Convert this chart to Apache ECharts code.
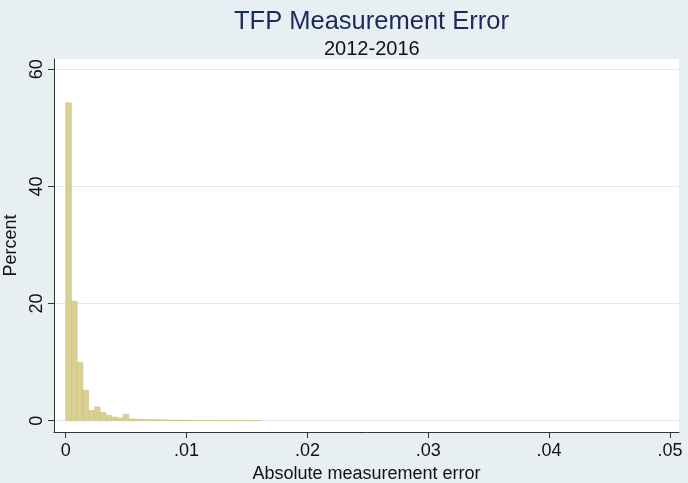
<!DOCTYPE html>
<html><head><meta charset="utf-8">
<script src="https://cdn.jsdelivr.net/npm/echarts@6/dist/echarts.min.js"></script>
<style>html,body{margin:0;padding:0;background:#e8eff2}#c{width:688px;height:483px}</style>
</head><body><div id="c"></div>
<script>
const binStart = 0;
const binWidth = 0.000475;
const percents = [54.3, 20.4, 9.95, 5.2, 1.75, 2.35, 1.42, 0.93, 0.62, 0.45, 1.1,
  0.3, 0.26, 0.23, 0.2, 0.18, 0.16, 0.14, 0.12, 0.11, 0.1, 0.09, 0.08, 0.07, 0.06,
  0.05, 0.05, 0.04, 0.04, 0.03, 0.03, 0.03, 0.02, 0.02];
const xTicks = [0, 0.01, 0.02, 0.03, 0.04, 0.05];
const xTickLabels = ['0', '.01', '.02', '.03', '.04', '.05'];
const yTicks = [0, 20, 40, 60];
const yTickLabels = ['0', '20', '40', '60'];

const histData = percents.map((p, i) => [binStart + i * binWidth, binStart + (i + 1) * binWidth, p]);
const FONT = "'Liberation Sans', Arial, sans-serif";

const chart = echarts.init(document.getElementById('c'), null, {renderer: 'canvas'});
chart.setOption({
  backgroundColor: '#e8eff2',
  animation: false,
  title: [
    {text: 'TFP Measurement Error', left: 229, top: 4,
     textStyle: {fontFamily: FONT, fontSize: 25.5, fontWeight: 'normal', color: '#1a2a5c'}},
    {text: '2012-2016', left: 319, top: 34,
     textStyle: {fontFamily: FONT, fontSize: 20, fontWeight: 'normal', color: '#111'}}
  ],
  grid: {left: 54, right: 9, top: 59, bottom: 51, show: true, backgroundColor: '#ffffff', borderWidth: 0,
    containLabel: false, outerBoundsMode: 'none'},
  xAxis: {
    type: 'value', min: -0.000968, max: 0.05075,
    axisLine: {show: true, onZero: false, lineStyle: {color: '#333', width: 1}},
    axisTick: {show: true, length: 6, customValues: xTicks, lineStyle: {color: '#333'}},
    axisLabel: {customValues: xTicks, margin: 10, fontFamily: FONT, fontSize: 18, color: '#111',
      formatter: v => { const i = xTicks.findIndex(t => Math.abs(t - v) < 1e-9); return i >= 0 ? xTickLabels[i] : ''; }},
    splitLine: {show: false},
    name: 'Absolute measurement error', nameLocation: 'middle', nameGap: 28,
    nameTextStyle: {fontFamily: FONT, fontSize: 18, color: '#111'}
  },
  yAxis: {
    type: 'value', min: -1.93, max: 61.76,
    axisLine: {show: true, onZero: false, lineStyle: {color: '#333', width: 1}},
    axisTick: {show: true, length: 6, customValues: yTicks, lineStyle: {color: '#333'}},
    axisLabel: {customValues: yTicks, rotate: 90, margin: 8, fontFamily: FONT, fontSize: 18, color: '#111',
      formatter: v => { const i = yTicks.findIndex(t => Math.abs(t - v) < 1e-9); return i >= 0 ? yTickLabels[i] : ''; }},
    splitLine: {show: true, lineStyle: {color: '#e1eaee', width: 1.2}},
    name: 'Percent', nameLocation: 'middle', nameGap: 32, nameRotate: 90,
    nameTextStyle: {fontFamily: FONT, fontSize: 18, color: '#111'}
  },
  series: [{
    type: 'custom',
    encode: {x: [0, 1], y: 2},
    data: histData,
    renderItem: function (params, api) {
      const x0 = api.value(0), x1 = api.value(1), y = api.value(2);
      const p0 = api.coord([x0, y]);
      const p1 = api.coord([x1, 0]);
      return {type: 'rect',
        shape: {x: p0[0], y: p0[1], width: p1[0] - p0[0], height: p1[1] - p0[1]},
        style: {fill: '#d8d193', stroke: '#c8bf78', lineWidth: 0.5}};
    }
  }]
});
</script></body></html>
